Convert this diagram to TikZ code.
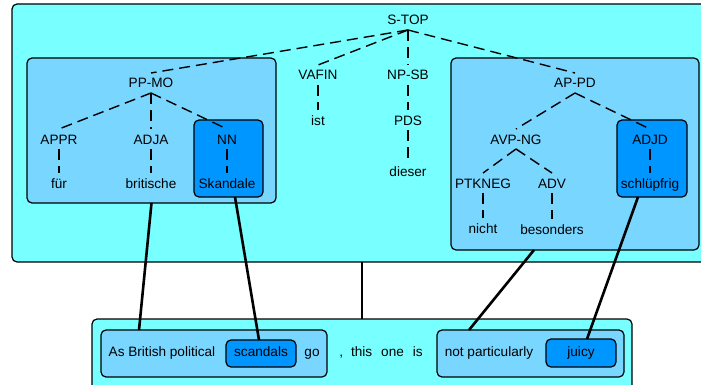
\documentclass[tikz,border=0pt]{standalone}
\usepackage{fontspec}
\setmainfont{Liberation Sans}
\usetikzlibrary{calc}

\definecolor{outerfill}{RGB}{120,255,255}
\definecolor{midfill}{RGB}{120,214,255}
\definecolor{darkfill}{RGB}{0,150,255}

\tikzset{
  panel/.style={draw=black, line width=1.2pt, rounded corners=5pt},
  outerpanel/.style={panel, fill=outerfill},
  midpanel/.style={panel, fill=midfill},
  darkpanel/.style={panel, fill=darkfill},
  lbl/.style={inner sep=0pt, outer xsep=0pt, outer ysep=5pt,
    text height=10pt, text depth=0pt,
    font=\fontsize{13.6}{16}\selectfont},
  word/.style={inner sep=0pt, text height=10pt, text depth=3pt,
    font=\fontsize{13.6}{16}\selectfont},
  treeedge/.style={draw=black, line width=1.4pt, dash pattern=on 11pt off 6pt},
  link/.style={draw=black, line width=2.6pt},
}

\begin{document}
\begin{tikzpicture}[x=1pt, y=-1pt]
\useasboundingbox (0,0) rectangle (701,385);
\clip (0,0) rectangle (701,385);

% ---- German parse tree panel ----
\path[outerpanel] (12,4) rectangle (730,262);
\path[midpanel] (27,58) rectangle (276,203);
\path[darkpanel] (194,120) rectangle (263,197);
\path[midpanel] (451,58) rectangle (699,250);
\path[darkpanel] (617,120) rectangle (687,197);

% ---- English sentence panel ----
\path[outerpanel] (92,319) rectangle (632,420);
\path[midpanel] (101,330) rectangle (327,377);
\path[darkpanel] (226,340) rectangle (296,367);
\path[midpanel] (437,330) rectangle (624,377);
\path[darkpanel] (546,339) rectangle (616,367);

% anchor points for the alignment links
\coordinate (ppmoB) at (151.5,203);
\coordinate (nnB)   at (235,197);
\coordinate (topB)  at (362,262);
\coordinate (appdB) at (534,250);
\coordinate (adjdB) at (638,197);
\coordinate (asT)   at (139,330);
\coordinate (scT)   at (259,340);
\coordinate (botT)  at (362,319);
\coordinate (npT)   at (469,330);
\coordinate (juT)   at (587,339);

% ---- tree labels ----
\node[lbl] (stop)   at (408,20)  {S-TOP};
\node[lbl] (ppmo)   at (151,83)  {PP-MO};
\node[lbl] (vafin)  at (318,75)  {VAFIN};
\node[lbl] (npsb)   at (408,75)  {NP-SB};
\node[lbl] (appd)   at (575,83)  {AP-PD};
\node[lbl] (ist)    at (318,120) {ist};
\node[lbl] (pds)    at (408,120) {PDS};
\node[lbl] (dieser) at (408,171) {dieser};
\node[lbl] (appr)   at (59,139)  {APPR};
\node[lbl] (adja)   at (151,139) {ADJA};
\node[lbl] (nn)     at (227,139) {NN};
\node[lbl] (fuer)   at (59,183)  {für};
\node[lbl] (brit)   at (151,183) {britische};
\node[lbl] (skand)  at (227,183) {Skandale};
\node[lbl] (avpng)  at (516,139) {AVP-NG};
\node[lbl] (adjd)   at (650,139) {ADJD};
\node[lbl] (schl)   at (650,183) {schlüpfrig};
\node[lbl] (ptk)    at (483,183) {PTKNEG};
\node[lbl] (adv)    at (552,183) {ADV};
\node[lbl] (nicht)  at (483,228) {nicht};
\node[lbl] (beson)  at (552,229) {besonders};

% ---- tree edges ----
\draw[treeedge] (stop.south) -- (ppmo.north);
\draw[treeedge] (stop.south) -- (vafin.north);
\draw[treeedge] (stop.south) -- (npsb.north);
\draw[treeedge] (stop.south) -- (appd.north);
\draw[treeedge] (vafin.south) -- (ist.north);
\draw[treeedge] (npsb.south) -- (pds.north);
\draw[treeedge] (pds.south) -- (dieser.north);
\draw[treeedge] (ppmo.south) -- (appr.north);
\draw[treeedge] (ppmo.south) -- (adja.north);
\draw[treeedge] (ppmo.south) -- (nn.north);
\draw[treeedge] (appr.south) -- (fuer.north);
\draw[treeedge] (adja.south) -- (brit.north);
\draw[treeedge] (nn.south) -- (skand.north);
\draw[treeedge] (appd.south) -- (avpng.north);
\draw[treeedge] (appd.south) -- (adjd.north);
\draw[treeedge] (adjd.south) -- (schl.north);
\draw[treeedge] (avpng.south) -- (ptk.north);
\draw[treeedge] (avpng.south) -- (adv.north);
\draw[treeedge] (ptk.south) -- (nicht.north);
\draw[treeedge] (adv.south) -- (beson.north);

% ---- English words ----
\node[word] (asbp)  at (162,353) {As British political};
\node[word] (scand) at (261,353) {scandals};
\node[word] (go)    at (312,353) {go};
\node[word] (this)  at (381,353) {,\hspace{8pt}this\hspace{9pt}one\hspace{9pt}is};
\node[word] (notp)  at (489,353) {not particularly};
\node[word] (juicy) at (581,353) {juicy};

% ---- alignment links ----
\draw[link] (ppmoB) -- (asT);
\draw[link] (nnB) -- (scT);
\draw[link] (topB) -- (botT);
\draw[link] (appdB) -- (npT);
\draw[link] (adjdB) -- (juT);
\end{tikzpicture}
\end{document}
